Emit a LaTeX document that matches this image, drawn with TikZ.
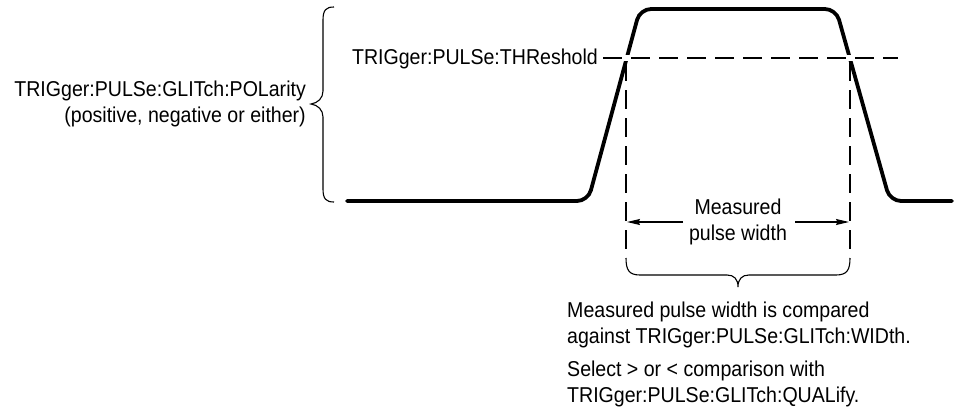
\documentclass[tikz,border=0pt]{standalone}
\usepackage{fontspec}
\setmainfont[FakeStretch=0.91]{Liberation Sans}
\usetikzlibrary{arrows.meta}

\begin{document}
\begin{tikzpicture}[x=1pt,y=-1pt,
  txt/.style={font=\fontsize{21.5}{25.5}\selectfont, inner sep=0pt},
  pulse/.style={line width=3.8pt, rounded corners=11pt, line cap=round},
  thinline/.style={line width=1.1pt},
  dashline/.style={thinline, dash pattern=on 19pt off 9pt},
  knockout/.style={white, line width=6pt},
  dimarrow/.style={line width=1.3pt, -{Stealth[length=13pt,width=6pt,inset=1.5pt]}},
  bracket/.style={line width=1.1pt}]
\useasboundingbox (0,0) rectangle (956,410);

% pulse waveform
\coordinate (lowL) at (347,201);
\coordinate (riseB) at (588,201);
\coordinate (riseT) at (640,9);
\coordinate (fallT) at (836,9);
\coordinate (fallB) at (890,201);
\coordinate (lowR) at (952,201);
\draw[pulse] (lowL) -- (riseB) -- (riseT) -- (fallT) -- (fallB) -- (lowR);

% threshold crossings: the edges are broken where the level passes
\coordinate (xL) at (626,58);
\coordinate (xR) at (850,58);
\draw[knockout] ([xshift=-7pt]xL) -- ([xshift=7pt]xL);
\draw[knockout] ([xshift=-7pt]xR) -- ([xshift=7pt]xR);

% threshold level
\node[txt, anchor=base east] (thr) at (598,64) {TRIGger:PULSe:THReshold};
\coordinate (thrS) at (603,58);
\coordinate (thrE) at (898,58);
\draw[dashline] (thrS) -- (thrE);

% width markers below the crossings
\coordinate (xLt) at (626,62);
\coordinate (xRt) at (850,62);
\coordinate (xLb) at (626,258);
\coordinate (xRb) at (850,258);
\draw[dashline] (xLt) -- (xLb);
\draw[dashline] (xRt) -- (xRb);

% measured width label and arrows (base anchor = last line)
\node[txt, align=center, anchor=base] (mpw) at (738,240) {Measured\\pulse width};
\coordinate (aLs) at (683,222);
\coordinate (aLe) at (627,222);
\coordinate (aRs) at (795,222);
\coordinate (aRe) at (849,222);
\draw[dimarrow] (aLs) -- (aLe);
\draw[dimarrow] (aRs) -- (aRe);

% bracket under the measured width
\coordinate (tipB) at (738,287);
\draw[bracket] (xLb) .. controls (626,270) and (629,275) .. (640,275) -- (727,275)
  .. controls (734,275) and (738,279) .. (tipB)
  .. controls (738,279) and (742,275) .. (749,275) -- (836,275)
  .. controls (847,275) and (850,270) .. (xRb);

% amplitude brace on the left
\coordinate (tipL) at (311,104);
\draw[bracket] (334,7) .. controls (326,7) and (323,10) .. (323,20) -- (323,91)
  .. controls (323,98) and (318,103) .. (tipL)
  .. controls (318,105) and (323,110) .. (323,117) -- (323,189)
  .. controls (323,199) and (326,202) .. (334,202);

\node[txt, anchor=base east, align=right] (pol) at (306,122)
  {TRIGger:PULSe:GLITch:POLarity\\(positive, negative or either)};

% comparison notes
\node[txt, anchor=base west, align=left] (cmp) at (567,343)
  {Measured pulse width is compared\\against TRIGger:PULSe:GLITch:WIDth.};
\node[txt, anchor=base west, align=left] (qual) at (567,402)
  {Select > or < comparison with\\TRIGger:PULSe:GLITch:QUALify.};
\end{tikzpicture}
\end{document}
